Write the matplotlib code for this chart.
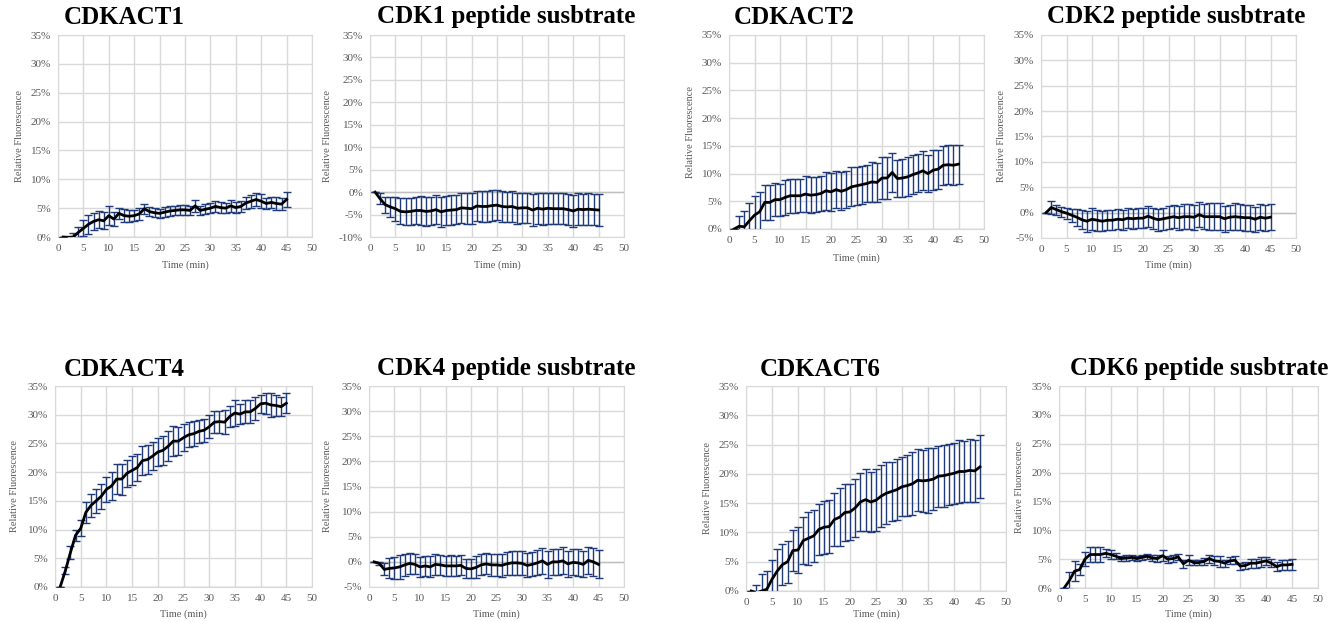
"""
Relative fluorescence over time for CDKACT sensors and CDK peptide substrates.
"""

import matplotlib
matplotlib.use('Agg')
import matplotlib.pyplot as plt
from matplotlib.ticker import FuncFormatter, MultipleLocator
import numpy as np


time_min = np.arange(1, 46)

titles = ['CDKACT1', 'CDK1 peptide susbtrate', 'CDKACT2', 'CDK2 peptide susbtrate',
          'CDKACT4', 'CDK4 peptide susbtrate', 'CDKACT6', 'CDK6 peptide susbtrate']

# mean relative fluorescence (%) and error (%) for each panel
act1 = [0, -0.1, 0.0, 0.8, 1.5, 2.2, 2.7, 3.0, 2.8, 3.7, 3.1, 4.1, 3.7, 3.6, 3.7,
        4.0, 4.9, 4.4, 4.2, 4.1, 4.3, 4.5, 4.6, 4.7, 4.7, 4.6, 5.4, 4.6, 4.8, 5.0,
        5.3, 5.1, 5.0, 5.4, 5.1, 5.3, 5.9, 6.2, 6.5, 6.2, 5.8, 6.0, 5.8, 5.7, 6.5]
act1_err = [0, 0.3, 0.7, 1.0, 1.4, 1.6, 1.5, 1.5, 1.5, 1.6, 1.2, 1.0, 1.1, 1.0, 1.0,
            1.0, 0.9, 0.8, 0.8, 0.8, 0.9, 0.8, 0.8, 0.9, 0.9, 0.8, 1.0, 0.8, 0.9, 0.9,
            1.0, 0.9, 0.9, 1.0, 1.0, 1.0, 1.0, 1.1, 1.1, 1.2, 1.0, 1.0, 1.1, 1.1, 1.3]

sub1 = [0, -1.5, -2.8, -3.3, -3.7, -4.3, -4.4, -4.3, -4.1, -4.1, -4.3, -4.2, -3.9, -4.4, -4.1,
        -4.0, -3.9, -3.5, -3.6, -3.7, -3.1, -3.2, -3.2, -3.0, -2.9, -3.2, -3.3, -3.2, -3.6, -3.5,
        -3.5, -4.0, -3.6, -3.8, -3.6, -3.7, -3.7, -3.7, -3.9, -4.2, -3.8, -3.9, -3.8, -3.9, -4.0]
sub1_err = [0, 1.2, 1.8, 2.3, 2.7, 2.9, 3.0, 3.0, 3.1, 3.2, 3.2, 3.2, 3.2, 3.3, 3.3,
            3.3, 3.3, 3.4, 3.4, 3.4, 3.4, 3.4, 3.4, 3.4, 3.4, 3.4, 3.4, 3.4, 3.4, 3.4,
            3.4, 3.5, 3.5, 3.5, 3.5, 3.5, 3.5, 3.5, 3.5, 3.5, 3.5, 3.5, 3.5, 3.5, 3.5]

act2 = [0, 0.5, 0.4, 1.5, 2.5, 3.1, 4.8, 4.8, 5.3, 5.3, 5.7, 6.0, 6.0, 6.0, 6.3,
        6.1, 6.2, 6.4, 6.9, 6.7, 7.1, 6.8, 7.1, 7.6, 7.8, 8.0, 8.2, 8.5, 8.4, 9.2,
        9.2, 10.2, 9.1, 9.2, 9.4, 9.8, 10.1, 10.5, 10.0, 10.6, 10.8, 11.5, 11.6, 11.5, 11.7]
act2_err = [0, 1.8, 2.8, 3.2, 3.4, 3.5, 3.2, 3.1, 3.0, 2.9, 3.2, 3.1, 3.1, 3.0, 3.2,
            3.2, 3.1, 3.1, 3.4, 3.4, 3.4, 3.4, 3.3, 3.5, 3.4, 3.4, 3.3, 3.6, 3.5, 3.7,
            3.7, 3.6, 3.4, 3.4, 3.5, 3.5, 3.4, 3.5, 3.4, 3.6, 3.5, 3.5, 3.5, 3.6, 3.5]

sub2 = [0, 1.0, 0.6, 0.2, -0.1, -0.5, -0.9, -1.4, -1.7, -1.3, -1.5, -1.7, -1.5, -1.5, -1.3,
        -1.4, -1.1, -1.2, -1.1, -1.1, -0.7, -1.1, -1.4, -1.2, -1.0, -0.8, -1.0, -0.8, -0.8, -0.9,
        -0.4, -0.8, -0.8, -0.8, -0.8, -1.2, -0.9, -0.8, -0.9, -1.0, -1.0, -1.3, -0.9, -1.1, -0.9]
sub2_err = [0, 1.2, 1.0, 1.0, 1.1, 1.3, 1.7, 1.9, 2.1, 2.2, 2.1, 2.0, 2.0, 2.0, 2.0,
            2.0, 2.0, 2.0, 2.0, 2.0, 2.1, 2.1, 2.2, 2.2, 2.3, 2.3, 2.4, 2.5, 2.5, 2.5,
            2.5, 2.5, 2.6, 2.6, 2.6, 2.6, 2.5, 2.6, 2.6, 2.6, 2.6, 2.5, 2.6, 2.6, 2.6]

act4 = [0, 2.8, 6.0, 9.0, 10.2, 13.0, 14.2, 15.0, 15.8, 17.0, 17.6, 18.8, 18.8, 19.8, 20.3,
        20.8, 22.0, 22.2, 22.8, 23.5, 23.8, 24.5, 25.4, 25.4, 26.0, 26.5, 26.7, 27.1, 27.3, 27.9,
        28.7, 28.8, 28.7, 29.7, 30.3, 30.1, 30.5, 30.5, 31.1, 31.9, 32.0, 31.7, 31.6, 31.4, 32.0]
act4_err = [0, 0.6, 1.2, 1.0, 1.4, 1.8, 2.0, 2.1, 2.2, 2.2, 2.4, 2.6, 2.7, 2.4, 2.5,
            2.3, 2.5, 2.5, 2.4, 2.4, 2.5, 2.6, 2.6, 2.4, 2.4, 2.2, 2.2, 2.0, 2.0, 2.0,
            1.9, 1.9, 2.1, 1.8, 2.2, 1.8, 2.0, 2.0, 2.0, 1.6, 1.8, 2.1, 1.9, 1.6, 1.7]

sub4 = [0, -0.3, -1.5, -1.3, -1.2, -1.0, -0.6, -0.3, -0.5, -1.0, -0.8, -1.0, -0.5, -0.6, -0.8,
        -0.8, -0.8, -0.7, -1.3, -1.4, -1.1, -0.6, -0.4, -0.6, -0.6, -0.7, -0.4, -0.2, -0.2, -0.3,
        -0.7, -0.5, -0.2, 0.2, -0.5, 0.0, 0.0, 0.2, -0.4, -0.1, -0.2, -0.5, 0.3, 0.0, -0.5]
sub4_err = [0, 0.3, 1.2, 2.0, 2.2, 2.4, 2.2, 2.1, 2.0, 2.0, 2.0, 2.1, 2.1, 2.0, 2.0,
            2.1, 2.0, 2.0, 1.9, 1.9, 2.2, 2.1, 2.1, 2.2, 2.2, 2.3, 2.3, 2.4, 2.4, 2.4,
            2.4, 2.4, 2.5, 2.6, 2.7, 2.6, 2.6, 2.7, 2.6, 2.6, 2.7, 2.6, 2.7, 2.8, 2.8]

act6 = [0, -0.3, 0.0, 0.3, 2.0, 3.4, 4.5, 5.0, 6.9, 7.0, 8.6, 9.0, 9.4, 10.5, 10.9,
        11.0, 12.2, 12.6, 13.4, 13.5, 14.2, 15.2, 15.6, 15.2, 15.5, 16.2, 16.7, 17.0, 17.3, 17.8,
        18.0, 18.3, 18.9, 18.8, 18.9, 19.1, 19.6, 19.7, 19.9, 20.1, 20.4, 20.4, 20.6, 20.5, 21.2]
act6_err = [0, 1.3, 2.9, 3.2, 3.3, 3.7, 3.5, 3.6, 3.5, 3.9, 4.0, 4.5, 4.4, 4.4, 4.5,
            4.5, 4.6, 5.0, 4.9, 4.8, 5.0, 4.9, 5.3, 5.1, 5.3, 5.3, 5.3, 5.1, 5.2, 5.0,
            5.2, 5.4, 5.3, 5.3, 5.6, 5.3, 5.2, 5.3, 5.2, 5.2, 5.3, 5.2, 5.4, 5.3, 5.4]

sub6 = [0, 1.3, 2.9, 3.2, 5.0, 5.8, 5.8, 5.8, 6.0, 5.8, 5.5, 5.1, 5.2, 5.3, 5.1,
        5.3, 5.5, 5.2, 5.1, 5.6, 5.0, 5.1, 5.4, 4.2, 4.8, 4.4, 4.4, 4.6, 5.1, 4.7,
        4.6, 4.3, 4.7, 4.8, 3.8, 3.9, 4.3, 4.3, 4.5, 4.7, 4.3, 3.7, 4.0, 4.0, 4.1]
sub6_err = [0, 1.5, 1.7, 1.0, 1.2, 1.3, 1.3, 1.3, 0.7, 0.8, 0.5, 0.5, 0.5, 0.4, 0.4,
            0.5, 0.4, 0.6, 0.6, 0.9, 0.6, 0.6, 0.5, 0.7, 0.9, 0.5, 0.5, 0.6, 0.7, 0.8,
            0.9, 0.6, 0.6, 0.7, 0.6, 0.6, 0.8, 0.8, 0.9, 0.7, 0.7, 0.8, 0.9, 0.9, 0.9]

means = [act1, sub1, act2, sub2, act4, sub4, act6, sub6]
errors = [act1_err, sub1_err, act2_err, sub2_err, act4_err, sub4_err, act6_err, sub6_err]
y_bottoms = [0, -10, 0, -5, 0, -5, 0, 0]

# pixel layout: axes (left, top, right, bottom), title centre, ylabel x, xlabel y
W, H = 1329, 622
layout = [
    ((58, 35, 312, 237), (124, 18), 19, 265),
    ((370, 35, 624, 237), (506, 17), 327, 265),
    ((729, 35, 984, 229), (794, 17), 690, 258),
    ((1041, 35, 1296, 238), (1176, 17), 1001, 265),
    ((55, 386, 312, 587), (124, 369), 15, 614),
    ((369, 386, 624, 587), (506, 369), 328, 614),
    ((746, 386, 1006, 591), (820, 369), 707, 614),
    ((1059, 386, 1318, 588), (1199, 368), 1020, 614),
]

SERIF = 'Liberation Serif'
GRID = '#d9d9d9'
TEXT = '#595959'
BAR = '#1f3a78'


def pct(v, pos):
    return '%d%%' % round(v)


def main():

    fig = plt.figure(figsize=(W / 100, H / 100), dpi=100)

    for i in range(8):
        (l, t, r, b), (tx, ty), ylx, xly = layout[i]
        ax = fig.add_axes([l / W, 1 - b / H, (r - l) / W, (b - t) / H])

        ax.errorbar(time_min, means[i], yerr=errors[i], color='black', lw=2.0,
                    ecolor=BAR, elinewidth=1.0, capsize=3, capthick=1.0, zorder=3)

        ax.set_xlim(0, 50)
        ax.set_ylim(y_bottoms[i], 35)
        ax.xaxis.set_major_locator(MultipleLocator(5))
        ax.yaxis.set_major_locator(MultipleLocator(5))
        ax.yaxis.set_major_formatter(FuncFormatter(pct))
        ax.grid(True, color=GRID, lw=1.0)
        ax.set_axisbelow(True)
        ax.axhline(0, color='#bfbfbf', lw=1.0, zorder=1)
        for s in ax.spines.values():
            s.set_color(GRID)
        ax.tick_params(length=0, labelsize=8, labelcolor=TEXT, pad=5)
        for lab in ax.get_xticklabels() + ax.get_yticklabels():
            lab.set_family(SERIF)

        ax.set_ylabel('Relative Fluorescence', family=SERIF, fontsize=7.5,
                      color=TEXT, va='center')
        ax.yaxis.set_label_coords((ylx - l) / (r - l), 0.5)
        ax.set_xlabel('Time (min)', family=SERIF, fontsize=7.5, color=TEXT,
                      va='center')
        ax.xaxis.set_label_coords(0.5, (b - xly) / (b - t))

        fig.text(tx / W, 1 - ty / H, titles[i], family=SERIF, fontsize=18,
                 fontweight='bold', ha='center', va='center')

    fig.savefig('out.png', dpi=100)


if __name__ == '__main__':
    main()
